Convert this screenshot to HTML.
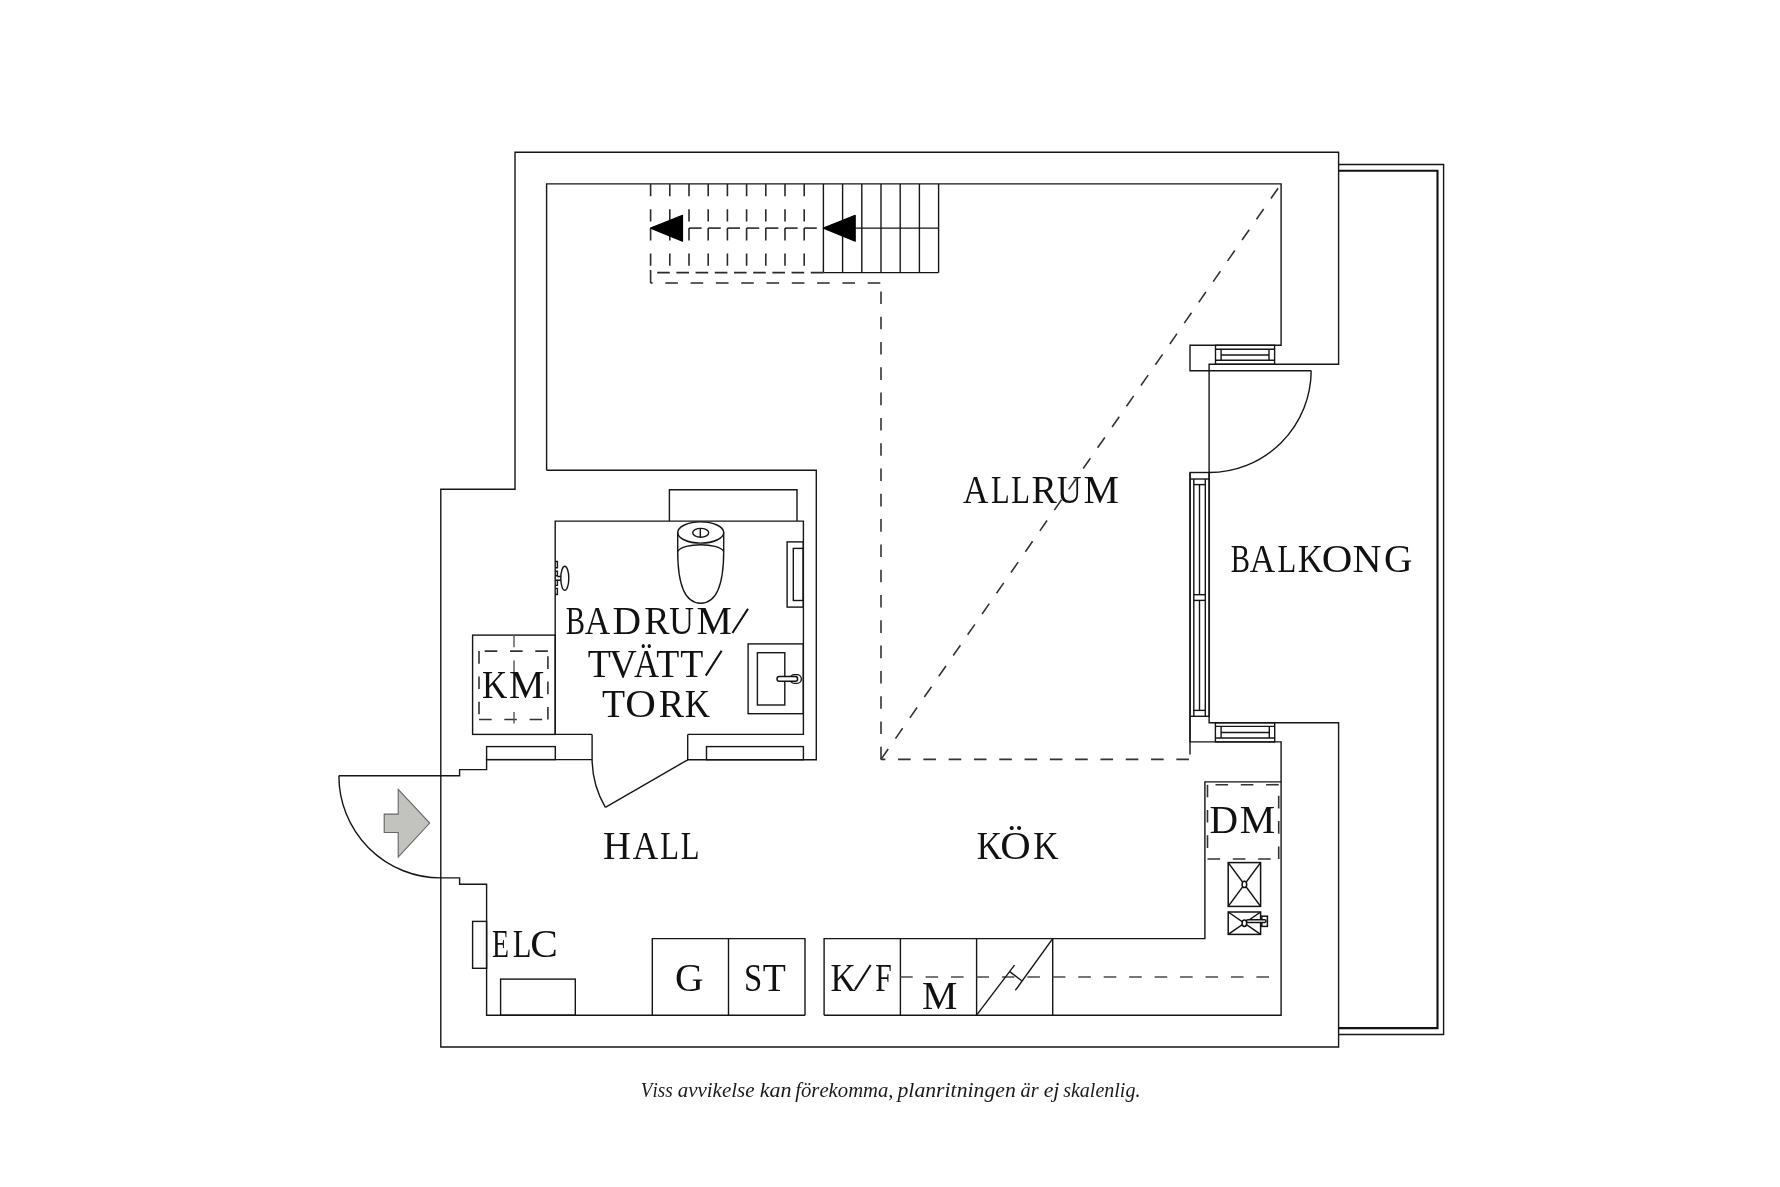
<!DOCTYPE html>
<html><head><meta charset="utf-8"><title>Planritning</title>
<style>
html,body{margin:0;padding:0;background:#fff;}
body{width:1780px;height:1187px;overflow:hidden;}
svg{display:block;will-change:transform;}
.w{fill:none;stroke:#151515;stroke-width:1.4;}
.wb{fill:none;stroke:#111;stroke-width:2.1;}
.wf{fill:#fff;stroke:#111;stroke-width:1.5;}
.ws{fill:none;stroke:#111;stroke-width:1.5;}
.wsf{fill:#fff;stroke:#111;stroke-width:1.5;}
.d{fill:none;stroke:#333;stroke-width:1.6;stroke-dasharray:12.6 12.7;}
.dk{fill:none;stroke:#4a4a4a;stroke-width:1.5;}
.ds{fill:none;stroke:#2a2a2a;stroke-width:1.6;}
.dt{fill:none;stroke:#555;stroke-width:1.4;}
.tri{fill:#000;stroke:#000;stroke-width:1.2;stroke-linejoin:round;}
.arr{fill:#c2c2bf;stroke:#666;stroke-width:1.1;}
.t{font-family:"Liberation Serif",serif;font-size:39.5px;fill:#111;}
.sl{stroke:#111;stroke-width:2.1;stroke-linecap:butt;}
.it{font-family:"Liberation Serif",serif;font-style:italic;font-size:21.5px;font-kerning:none;fill:#1a1a1a;}
</style></head><body>
<svg width="1780" height="1187" viewBox="0 0 1780 1187">
<rect x="0" y="0" width="1780" height="1187" fill="#fff"/>
<g>
<path class="w" d="M515,152.3H1338.6V364.3H1209.1V722.7H1338.6V1047H440.8V489.2H515Z"/>
<path class="w" d="M1338.6,164.5H1443.6V1034.5H1338.6"/>
<path class="wb" d="M1338.6,170.8H1437.5V1028.1H1338.6"/>
<path class="w" d="M546.6,470.3V183.9H1281.1V345.3H1190V370.8H1311.2"/>
<path class="w" d="M1311.2,370.8A102.2,102.2 0 0 1 1209.1,472.5"/>
<path class="w" d="M546.6,470.3H816.3V759.7H687.7V734.4"/>
<path class="w" d="M592.1,734.4H555.2V521.1H803.4V734.4H687.7"/>
<path class="w" d="M592.1,734.4V759.6H486.6V769.6H459.6V775.8H338.9"/>
<rect class="w" x="486.6" y="746.6" width="68.7" height="13"/>
<rect class="w" x="706.5" y="746.6" width="96.9" height="13.1"/>
<path class="w" d="M338.9,775.8A101.9,101.9 0 0 0 440.8,877.9H459.6V884.2H486.6V1015.2H805"/>
<path class="w" d="M824.1,1015.2H1281.1V741.9H1190V472.5"/>
<line class="w" x1="1190" y1="716.3" x2="1190" y2="754.4"/>
<line class="w" x1="687.7" y1="759.8" x2="605.4" y2="807.3"/>
<path class="w" d="M592.1,759.8A95.6,95.6 0 0 0 605.4,807.3"/>
<polygon class="arr" points="384.2,814.1 398.2,814.1 398.2,789.3 429.7,823 398.2,857.2 398.2,832.5 384.2,832.5"/>
<rect class="w" x="1215.5" y="345.3" width="59.1" height="19"/>
<line class="w" x1="1215.5" y1="349.2" x2="1274.6" y2="349.2"/>
<line class="w" x1="1215.5" y1="360.3" x2="1274.6" y2="360.3"/>
<line class="w" x1="1221.1" y1="349.2" x2="1221.1" y2="360.3"/>
<line class="w" x1="1269" y1="349.2" x2="1269" y2="360.3"/>
<line class="w" x1="1221.1" y1="355" x2="1269" y2="355"/>
<rect class="w" x="1215.4" y="722.7" width="59.3" height="19.2"/>
<line class="w" x1="1215.4" y1="726.4" x2="1274.7" y2="726.4"/>
<line class="w" x1="1215.4" y1="738" x2="1274.7" y2="738"/>
<line class="w" x1="1221.1" y1="726.4" x2="1221.1" y2="738"/>
<line class="w" x1="1269.3" y1="726.4" x2="1269.3" y2="738"/>
<line class="w" x1="1221.1" y1="732.5" x2="1269.3" y2="732.5"/>
<rect class="w" x="1190.1" y="472.5" width="19.1" height="243.8"/>
<line class="w" x1="1190.1" y1="479" x2="1209.2" y2="479"/>
<line class="w" x1="1193.8" y1="479" x2="1193.8" y2="716.3"/>
<line class="w" x1="1205.3" y1="479" x2="1205.3" y2="716.3"/>
<line class="w" x1="1193.8" y1="484.6" x2="1205.3" y2="484.6"/>
<line class="w" x1="1193.8" y1="710.4" x2="1205.3" y2="710.4"/>
<line class="w" x1="1193.8" y1="594.7" x2="1205.3" y2="594.7"/>
<line class="w" x1="1193.8" y1="600.4" x2="1205.3" y2="600.4"/>
<line class="w" x1="1199.5" y1="484.6" x2="1199.5" y2="594.7"/>
<line class="w" x1="1199.5" y1="600.4" x2="1199.5" y2="710.4"/>
<path class="w" d="M669.4,521.1V489.7H797V521.1"/>
<ellipse class="w" cx="700.7" cy="532.5" rx="23" ry="10.6"/>
<ellipse class="w" cx="700.7" cy="532.8" rx="8" ry="4.4"/>
<line class="w" x1="700.3" y1="528.4" x2="700.3" y2="537.2"/>
<path class="w" d="M677.7,532.5V551M723.7,532.5V551"/>
<path class="w" d="M677.7,551.5C683,542.5 718.4,542.5 723.7,551.5"/>
<path class="w" d="M677.7,551C677.7,590 688,603.2 700.7,603.2C713.4,603.2 723.7,590 723.7,551"/>
<rect class="w" x="787.1" y="541.9" width="16.2" height="65.2"/>
<rect class="w" x="793.3" y="548.4" width="10" height="52.1"/>
<rect class="w" x="748.1" y="643.9" width="55.2" height="69.8"/>
<rect class="w" x="757.4" y="652.7" width="27.4" height="52.3"/>
<rect class="w" x="790" y="674.6" width="11.4" height="8.8" rx="4.4"/>
<rect class="wf" x="777" y="676.6" width="20.6" height="4.6" rx="2.3"/>
<path class="w" d="M555.2,561.5H557.4V567.7H555.2M555.2,571.2H557.4V575.8H555.2M555.2,580.3H557.4V585.4H555.2M555.2,588.4H557.4V594.5H555.2"/>
<ellipse class="w" cx="564.8" cy="578.3" rx="4" ry="12.1"/>
<path class="w" d="M557.4,576.5H561M557.4,580.3H561"/>
<rect class="w" x="472.6" y="635.1" width="82.7" height="99.3"/>
<line class="d" x1="479" y1="651.1" x2="479" y2="719.5" stroke-dasharray="12.2 13.1"/>
<line class="d" x1="479" y1="719.5" x2="547.9" y2="719.5" stroke-dasharray="12.6 12.6"/>
<line class="d" x1="547.9" y1="719.5" x2="547.9" y2="651.1" stroke-dasharray="12.2 13.1"/>
<line class="d" x1="547.9" y1="651.1" x2="479" y2="651.1" stroke-dasharray="12.2 13.1"/>
<line class="dt" x1="514" y1="635.1" x2="514" y2="647.2"/>
<line class="dt" x1="514" y1="660.4" x2="514" y2="697"/>
<line class="dt" x1="514" y1="712" x2="514" y2="723.6"/>
<path class="w" d="M1281.1,781.9H1204.9V938.6H824.1V1015.2"/>
<path class="w" d="M805,1015.2V938.6H652.3V1015.2"/>
<line class="w" x1="728.5" y1="938.6" x2="728.5" y2="1015.2"/>
<line class="w" x1="900.4" y1="938.6" x2="900.4" y2="1015.2"/>
<line class="w" x1="976.6" y1="938.6" x2="976.6" y2="1015.2"/>
<line class="w" x1="1052.7" y1="938.6" x2="1052.7" y2="1015.2"/>
<line class="d" x1="1207.5" y1="784.7" x2="1207.5" y2="859" stroke-dasharray="12.7 12.8"/>
<line class="d" x1="1207.5" y1="859" x2="1278.7" y2="859" stroke-dasharray="12.3 13.2"/>
<line class="d" x1="1278.7" y1="859" x2="1278.7" y2="784.7" stroke-dasharray="12.2 13"/>
<line class="d" x1="1278.7" y1="784.7" x2="1207.5" y2="784.7" stroke-dasharray="12.6 13"/>
<line class="dk" x1="1269" y1="977.1" x2="900.4" y2="977.1" stroke-dasharray="12.6 12.85"/>
<line class="w" x1="976.6" y1="1015.2" x2="1014.5" y2="965.2"/>
<line class="w" x1="1015.3" y1="990.4" x2="1052.7" y2="938.6"/>
<line class="w" x1="1010" y1="971.9" x2="1021.7" y2="980.8"/>
<rect class="ws" x="1228.2" y="862.6" width="32.4" height="43.8"/>
<line class="ws" x1="1228.2" y1="862.6" x2="1260.6" y2="906.4"/>
<line class="ws" x1="1260.6" y1="862.6" x2="1228.2" y2="906.4"/>
<ellipse class="wsf" cx="1244.4" cy="884.4" rx="2.3" ry="3.2"/>
<rect class="ws" x="1228.2" y="912" width="32.4" height="22.4"/>
<line class="ws" x1="1228.2" y1="912" x2="1260.6" y2="934.4"/>
<line class="ws" x1="1260.6" y1="912" x2="1228.2" y2="934.4"/>
<ellipse class="wsf" cx="1244.4" cy="923.3" rx="2.3" ry="3.2"/>
<rect class="ws" x="1261.8" y="916.2" width="5.6" height="10.2"/>
<rect class="wsf" x="1246.5" y="919.8" width="19.5" height="2.6" rx="1.3"/>
<rect class="w" x="472.6" y="921.4" width="14" height="46.9"/>
<rect class="w" x="500.6" y="979.1" width="74.7" height="36.1"/>
<line class="ds" x1="650.6" y1="183.9" x2="650.6" y2="228.1" stroke-dasharray="12.3 13"/>
<line class="ds" x1="650.6" y1="228.1" x2="650.6" y2="272.6" stroke-dasharray="12.3 13"/>
<line class="ds" x1="650.6" y1="228.1" x2="663.2" y2="228.1"/>
<line class="ds" x1="669.8" y1="183.9" x2="669.8" y2="228.1" stroke-dasharray="12.3 13"/>
<line class="ds" x1="669.8" y1="228.1" x2="669.8" y2="272.6" stroke-dasharray="12.3 13"/>
<line class="ds" x1="669.8" y1="228.1" x2="682.4" y2="228.1"/>
<line class="ds" x1="689" y1="183.9" x2="689" y2="228.1" stroke-dasharray="12.3 13"/>
<line class="ds" x1="689" y1="228.1" x2="689" y2="272.6" stroke-dasharray="12.3 13"/>
<line class="ds" x1="689" y1="228.1" x2="701.6" y2="228.1"/>
<line class="ds" x1="708.2" y1="183.9" x2="708.2" y2="228.1" stroke-dasharray="12.3 13"/>
<line class="ds" x1="708.2" y1="228.1" x2="708.2" y2="272.6" stroke-dasharray="12.3 13"/>
<line class="ds" x1="708.2" y1="228.1" x2="720.8" y2="228.1"/>
<line class="ds" x1="727.4" y1="183.9" x2="727.4" y2="228.1" stroke-dasharray="12.3 13"/>
<line class="ds" x1="727.4" y1="228.1" x2="727.4" y2="272.6" stroke-dasharray="12.3 13"/>
<line class="ds" x1="727.4" y1="228.1" x2="740" y2="228.1"/>
<line class="ds" x1="746.6" y1="183.9" x2="746.6" y2="228.1" stroke-dasharray="12.3 13"/>
<line class="ds" x1="746.6" y1="228.1" x2="746.6" y2="272.6" stroke-dasharray="12.3 13"/>
<line class="ds" x1="746.6" y1="228.1" x2="759.2" y2="228.1"/>
<line class="ds" x1="765.8" y1="183.9" x2="765.8" y2="228.1" stroke-dasharray="12.3 13"/>
<line class="ds" x1="765.8" y1="228.1" x2="765.8" y2="272.6" stroke-dasharray="12.3 13"/>
<line class="ds" x1="765.8" y1="228.1" x2="778.4" y2="228.1"/>
<line class="ds" x1="785" y1="183.9" x2="785" y2="228.1" stroke-dasharray="12.3 13"/>
<line class="ds" x1="785" y1="228.1" x2="785" y2="272.6" stroke-dasharray="12.3 13"/>
<line class="ds" x1="785" y1="228.1" x2="797.6" y2="228.1"/>
<line class="ds" x1="804.2" y1="183.9" x2="804.2" y2="228.1" stroke-dasharray="12.3 13"/>
<line class="ds" x1="804.2" y1="228.1" x2="804.2" y2="272.6" stroke-dasharray="12.3 13"/>
<line class="ds" x1="804.2" y1="228.1" x2="816.8" y2="228.1"/>
<line class="w" x1="823.4" y1="183.9" x2="823.4" y2="272.6"/>
<line class="w" x1="842.6" y1="183.9" x2="842.6" y2="272.6"/>
<line class="w" x1="861.8" y1="183.9" x2="861.8" y2="272.6"/>
<line class="w" x1="881" y1="183.9" x2="881" y2="272.6"/>
<line class="w" x1="900.2" y1="183.9" x2="900.2" y2="272.6"/>
<line class="w" x1="919.4" y1="183.9" x2="919.4" y2="272.6"/>
<line class="w" x1="938.6" y1="183.9" x2="938.6" y2="272.6"/>
<line class="w" x1="823.4" y1="272.6" x2="938.6" y2="272.6"/>
<line class="w" x1="855.2" y1="228.1" x2="938.6" y2="228.1"/>
<line class="ds" x1="650.6" y1="272.6" x2="823.4" y2="272.6" stroke-dasharray="12.6 6.6" stroke-dashoffset="-6.6"/>
<line class="ds" x1="650.6" y1="270" x2="650.6" y2="283.1"/>
<line class="ds" x1="650.6" y1="283" x2="881" y2="283" stroke-dasharray="12.6 12.7" stroke-dashoffset="-14.7"/>
<polygon class="tri" points="650.6,228.1 682.5,215.4 682.5,241.2"/>
<polygon class="tri" points="823.4,228.1 855.2,215.4 855.2,241.2"/>
<line class="d" x1="881" y1="759.4" x2="881" y2="283" stroke-dasharray="12.1 13.35"/>
<line class="d" x1="881" y1="759.4" x2="1190" y2="759.4" stroke-dasharray="12.4 13.05" stroke-dashoffset="8.25"/>
<line class="d" x1="881" y1="759.4" x2="1281.1" y2="183.9" stroke-dasharray="12.4 13"/>
</g>
<g>
<text class="t" transform="translate(962.99,503.00) scale(0.891,1)">A</text>
<text class="t" transform="translate(991.02,503.00) scale(0.776,1)">L</text>
<text class="t" transform="translate(1011.32,503.00) scale(0.776,1)">L</text>
<text class="t" transform="translate(1031.57,503.00) scale(0.961,1)">R</text>
<text class="t" transform="translate(1057.08,503.00) scale(0.864,1)">U</text>
<text class="t" transform="translate(1083.40,503.00) scale(1.008,1)">M</text>
<text class="t" transform="translate(1230.77,571.50) scale(0.730,1)">B</text>
<text class="t" transform="translate(1249.74,571.50) scale(0.891,1)">A</text>
<text class="t" transform="translate(1277.47,571.50) scale(0.776,1)">L</text>
<text class="t" transform="translate(1297.73,571.50) scale(0.886,1)">K</text>
<text class="t" transform="translate(1321.71,571.50) scale(1.072,1)">O</text>
<text class="t" transform="translate(1352.54,571.50) scale(1.016,1)">N</text>
<text class="t" transform="translate(1383.91,571.50) scale(0.999,1)">G</text>
<text class="t" transform="translate(565.77,634.30) scale(0.730,1)">B</text>
<text class="t" transform="translate(584.74,634.30) scale(0.891,1)">A</text>
<text class="t" transform="translate(612.51,634.30) scale(1.000,1)">D</text>
<text class="t" transform="translate(644.37,634.30) scale(0.961,1)">R</text>
<text class="t" transform="translate(669.28,634.30) scale(0.864,1)">U</text>
<text class="t" transform="translate(696.50,634.30) scale(1.008,1)">M</text>
<text class="t" transform="translate(587.79,677.00) scale(0.956,1)">T</text>
<text class="t" transform="translate(609.07,677.00) scale(0.977,1)">V</text>
<text class="t" transform="translate(634.06,677.00) scale(0.876,1)">Ä</text>
<text class="t" transform="translate(656.29,677.00) scale(0.956,1)">T</text>
<text class="t" transform="translate(680.29,677.00) scale(0.956,1)">T</text>
<text class="t" transform="translate(601.94,716.60) scale(0.956,1)">T</text>
<text class="t" transform="translate(625.21,716.60) scale(1.072,1)">O</text>
<text class="t" transform="translate(658.67,716.60) scale(0.961,1)">R</text>
<text class="t" transform="translate(684.63,716.60) scale(0.886,1)">K</text>
<text class="t" transform="translate(481.98,697.70) scale(0.886,1)">K</text>
<text class="t" transform="translate(508.90,697.70) scale(1.008,1)">M</text>
<text class="t" transform="translate(603.09,859.30) scale(0.976,1)">H</text>
<text class="t" transform="translate(632.74,859.30) scale(0.891,1)">A</text>
<text class="t" transform="translate(660.37,859.30) scale(0.776,1)">L</text>
<text class="t" transform="translate(680.77,859.30) scale(0.776,1)">L</text>
<text class="t" transform="translate(976.63,858.70) scale(0.886,1)">K</text>
<text class="t" transform="translate(1000.27,858.70) scale(1.068,1)">Ö</text>
<text class="t" transform="translate(1033.23,858.70) scale(0.886,1)">K</text>
<text class="t" transform="translate(492.10,957.40) scale(0.704,1)">E</text>
<text class="t" transform="translate(512.87,957.40) scale(0.776,1)">L</text>
<text class="t" transform="translate(530.30,957.40) scale(1.047,1)">C</text>
<text class="t" transform="translate(675.06,990.80) scale(0.999,1)">G</text>
<text class="t" transform="translate(744.01,990.80) scale(0.830,1)">S</text>
<text class="t" transform="translate(762.69,990.80) scale(0.956,1)">T</text>
<text class="t" transform="translate(830.53,991.10) scale(0.886,1)">K</text>
<text class="t" transform="translate(875.24,991.10) scale(0.752,1)">F</text>
<text class="t" transform="translate(922.00,1009.20) scale(1.008,1)">M</text>
<text class="t" transform="translate(1209.61,832.50) scale(1.000,1)">D</text>
<text class="t" transform="translate(1239.65,832.50) scale(1.008,1)">M</text>
<line class="sl" x1="732.4" y1="633" x2="748" y2="608.7"/>
<line class="sl" x1="705.8" y1="675.6" x2="721.6" y2="650.8"/>
<line class="sl" x1="855" y1="989.6" x2="870.6" y2="965"/>
<text class="it" transform="translate(640.70,1097.3) scale(0.892,1)">Viss</text>
<text class="it" transform="translate(677.67,1097.3) scale(0.976,1)">avvikelse</text>
<text class="it" transform="translate(759.66,1097.3) scale(1.026,1)">kan</text>
<text class="it" transform="translate(795.27,1097.3) scale(0.963,1)">förekomma,</text>
<text class="it" transform="translate(897.47,1097.3) scale(1.012,1)">planritningen</text>
<text class="it" transform="translate(1020.60,1097.3) scale(0.944,1)">är</text>
<text class="it" transform="translate(1043.63,1097.3) scale(1.019,1)">ej</text>
<text class="it" transform="translate(1063.16,1097.3) scale(0.932,1)">skalenlig.</text>
</g>
</svg>
</body></html>
